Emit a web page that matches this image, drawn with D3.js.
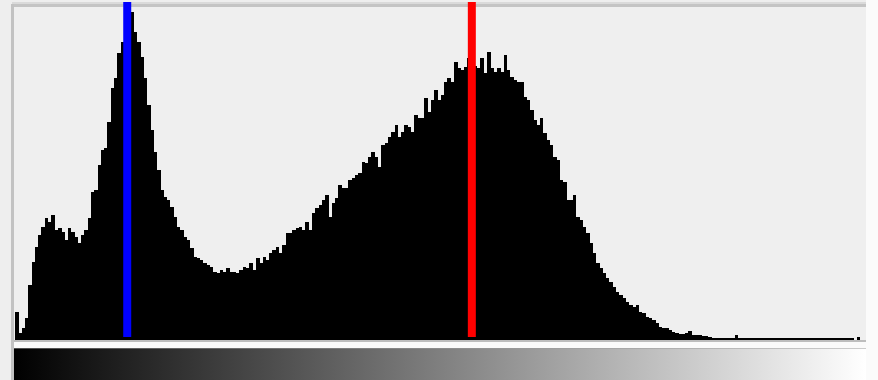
<!DOCTYPE html>
<html>
<head>
<meta charset="utf-8">
<script src="https://cdn.jsdelivr.net/npm/d3@7"></script>
<style>
  html, body { margin: 0; padding: 0; background: #efefef; }
  svg { display: block; }
</style>
</head>
<body>
<svg id="chart" width="878" height="380"></svg>
<script>
// Histogram of 256 gray levels (bin heights)
const binCounts = [
  28, 7, 12, 22, 55, 78, 93, 105, 113, 122,
  118, 125, 110, 112, 108, 100, 112, 108, 103, 97,
  105, 110, 122, 148, 150, 175, 190, 192, 218, 252,
  262, 287, 298, 312, 322, 328, 308, 298, 283, 262,
  235, 210, 188, 170, 150, 143, 140, 133, 123, 113,
  110, 103, 100, 92, 83, 82, 80, 77, 75, 73,
  68, 67, 70, 68, 72, 68, 68, 67, 70, 73,
  72, 77, 70, 82, 77, 83, 80, 87, 90, 93,
  87, 95, 107, 107, 110, 112, 113, 110, 118, 110,
  127, 132, 135, 140, 145, 123, 137, 142, 155, 152,
  152, 160, 162, 165, 167, 178, 177, 183, 188, 183,
  173, 195, 197, 203, 208, 215, 203, 208, 215, 213,
  208, 225, 222, 222, 242, 228, 240, 250, 240, 245,
  258, 262, 258, 278, 272, 270, 273, 282, 275, 274,
  272, 282, 267, 288, 272, 268, 272, 268, 285, 270,
  263, 260, 258, 258, 243, 240, 230, 220, 215, 222,
  207, 200, 195, 183, 180, 160, 158, 140, 140, 145,
  123, 120, 113, 107, 97, 87, 77, 72, 67, 62,
  58, 53, 48, 45, 42, 38, 35, 33, 35, 28,
  27, 23, 22, 20, 17, 13, 12, 12, 10, 8,
  7, 6, 6, 7, 9, 5, 5, 5, 4, 4,
  3, 2, 2, 2, 2, 2, 2, 2, 5, 2,
  2, 2, 2, 2, 2, 2, 2, 2, 2, 2,
  2, 2, 2, 2, 2, 2, 2, 2, 2, 2,
  2, 2, 2, 2, 2, 2, 2, 2, 2, 2,
  2, 2, 2, 2, 0, 3
];
const binLevels = binCounts.map((_, i) => i);
const markerValues = [34, 138.4];
const markerColors = ["#0000ff", "#ff0000"];
const gradientStops = ["#000000", "#ffffff"];

const svg = d3.select("#chart");
const W = 878, H = 380;

const x = d3.scaleLinear().domain([0, 256]).range([15, 860]);
const y = d3.scaleLinear().domain([0, 330]).range([340, 10]);

// outer background
svg.append("rect").attr("x", 0).attr("y", 0).attr("width", W).attr("height", H).attr("fill", "#eeeeee");
svg.append("rect").attr("x", 866).attr("y", 0).attr("width", W - 866).attr("height", H).attr("fill", "#fbfbfb");

// panel
svg.append("rect").attr("x", 14).attr("y", 7).attr("width", 852).attr("height", 334).attr("fill", "#efefef");
// top border
svg.append("rect").attr("x", 12).attr("y", 2).attr("width", 854).attr("height", 2).attr("fill", "#dadada");
svg.append("rect").attr("x", 12).attr("y", 4).attr("width", 854).attr("height", 3).attr("fill", "#c4c4c4");
// left border
svg.append("rect").attr("x", 11).attr("y", 4).attr("width", 3).attr("height", 376).attr("fill", "#c2c2c2");

// white strip between histogram and gradient
svg.append("rect").attr("x", 14).attr("y", 341).attr("width", 852).attr("height", 7).attr("fill", "#fafafa");
// baseline
svg.append("rect").attr("x", 14).attr("y", 340).attr("width", 852).attr("height", 2).attr("fill", "#bdbdbd");

// gradient bar
const defs = svg.append("defs");
const lg = defs.append("linearGradient").attr("id", "gray").attr("x1", "0%").attr("x2", "100%");
gradientStops.forEach((c, i) => lg.append("stop").attr("offset", (i * 100 / (gradientStops.length - 1)) + "%").attr("stop-color", c));
svg.append("rect").attr("x", 14).attr("y", 348).attr("width", 852).attr("height", 32).attr("fill", "url(#gray)");
svg.append("rect").attr("x", 14).attr("y", 348).attr("width", 852).attr("height", 1).attr("fill", "#9a9a9a").attr("opacity", 0.5);

// histogram bars
svg.append("g").selectAll("rect").data(binLevels).join("rect")
  .attr("x", d => x(d))
  .attr("width", d => x(d + 1) - x(d) + 0.3)
  .attr("y", d => y(binCounts[d]))
  .attr("height", d => y(0) - y(binCounts[d]))
  .attr("fill", "#000")
  .attr("shape-rendering", "crispEdges");

// marker lines
svg.append("g").selectAll("line").data(markerValues).join("line")
  .attr("x1", d => x(d)).attr("x2", d => x(d))
  .attr("y1", 2).attr("y2", 337)
  .attr("stroke", (d, i) => markerColors[i])
  .attr("stroke-width", 8);
</script>
</body>
</html>
